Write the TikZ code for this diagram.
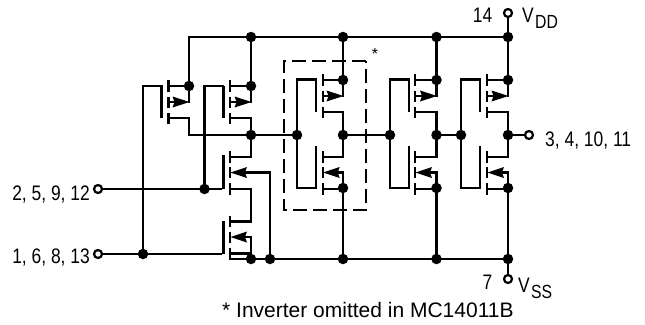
\documentclass[tikz,border=0pt]{standalone}
\usepackage{fontspec}
\setmainfont{Liberation Sans}
\newfontfamily\narrowface[FakeStretch=0.83]{Liberation Sans}
\newcommand{\ptran}[4]{%
  \coordinate (#1s) at (#2,#4);
  \coordinate (#1d) at (#2,#4+32);
  \coordinate (#1a) at (#2,#4+16);
  \coordinate (#1cs) at (#3,#4);
  \coordinate (#1cd) at (#3,#4+32);
  \coordinate (#1ca) at (#3,#4+16);
  \draw[chan] (#3,#4-6) -- (#3,#4+6);
  \draw[chan] (#3,#4+10.5) -- (#3,#4+21.5);
  \draw[chan] (#3,#4+26.5) -- (#3,#4+38);
  \draw[wire] (#1cs) -- (#1s);
  \draw[wire] (#1s) -- (#1a);
  \draw[wire] (#1cd) -- (#1d);
  \draw[wire] (#1ca) -- (#2-14,#4+16);
  \fill (#2+0.5,#4+16) -- (#2-16.5,#4+10.5) -- (#2-14.5,#4+16) -- (#2-16.5,#4+21.5) -- cycle;
}
\newcommand{\ntran}[4]{%
  \coordinate (#1d) at (#2,#4);
  \coordinate (#1s) at (#2,#4+32);
  \coordinate (#1a) at (#2,#4+15.5);
  \coordinate (#1cd) at (#3,#4);
  \coordinate (#1cs) at (#3,#4+32);
  \coordinate (#1ca) at (#3,#4+15.5);
  \draw[chan] (#3,#4-6) -- (#3,#4+5.5);
  \draw[chan] (#3,#4+10) -- (#3,#4+21);
  \draw[chan] (#3,#4+26) -- (#3,#4+38);
  \draw[wire] (#1cd) -- (#1d);
  \draw[wire] (#1cs) -- (#2,#4+32);
  \draw[wire] (#3+14,#4+15.5) -- (#1a);
  \fill (#3+0.5,#4+15.5) -- (#3+17,#4+10) -- (#3+15,#4+15.5) -- (#3+17,#4+21) -- cycle;
}
\begin{document}
\begin{tikzpicture}[x=1pt,y=-1pt,
  wire/.style={line width=2.2pt,line join=miter,line cap=rect},
  chan/.style={line width=2.4pt},
  dashbox/.style={line width=2.2pt,dash pattern=on 14pt off 6pt},
  dot/.style={circle,fill=black,inner sep=0pt,minimum size=10.5pt},
  ring/.style={circle,draw=black,fill=white,line width=2.2pt,inner sep=0pt,minimum size=8pt},
  lbl/.style={inner sep=0pt,font=\narrowface\fontsize{21}{21}\selectfont},
  sublbl/.style={inner sep=0pt,font=\narrowface\fontsize{19}{19}\selectfont},
  note/.style={inner sep=0pt,font=\fontsize{21}{21}\selectfont}]
\useasboundingbox (0,0) rectangle (645,324);
% Transistors
\ptran{pa}{189}{168.5}{86}
\ptran{pb}{251}{230}{86}
\ptran{pc}{343}{322.7}{80}
\ptran{pd}{436.5}{415}{80}
\ptran{pe}{508}{487}{80}
\ntran{na}{251}{230}{157}
\ntran{nb}{251}{230}{221.5}
\ntran{nc}{343}{322.7}{157}
\ntran{nd}{436.5}{415}{157}
\ntran{ne}{508}{487}{157}
% Gate bars
\foreach \x/\ya/\yb in {161.5/86/118,223.3/86/118,316/79.5/112,409/79.5/112,480/79.5/112,
  223.3/155/189,223.3/221/254,316/146/188,409/146/188,480/146/188}
  \draw[chan] (\x,\ya) -- (\x,\yb);
% Nodes
\node[dot] (vddA) at (251,37) {};
\node[dot] (vddB) at (343,37) {};
\node[dot] (vddC) at (436.5,37) {};
\node[dot] (vddD) at (508,37) {};
\node[dot] (srcA) at (189,86) {};
\node[dot] (srcB) at (251,86) {};
\node[dot] (srcC) at (343,80) {};
\node[dot] (srcD) at (436.5,80) {};
\node[dot] (srcE) at (508,80) {};
\node[dot] (outA) at (251,135) {};
\node[dot] (gateC) at (297,135) {};
\node[dot] (outC) at (343,135) {};
\node[dot] (gateD) at (390,135) {};
\node[dot] (outD) at (436.5,135) {};
\node[dot] (gateE) at (461,135) {};
\node[dot] (outE) at (508,135) {};
\node[dot] (inA) at (204.5,189) {};
\node[dot] (inB) at (143,254) {};
\node[dot] (gndC) at (343,188) {};
\node[dot] (gndD) at (436.5,188) {};
\node[dot] (gndE) at (508,188) {};
\node[dot] (vssA) at (251,259) {};
\node[dot] (vssB) at (270,259) {};
\node[dot] (vssC) at (343,259) {};
\node[dot] (vssD) at (436.5,259) {};
\node[dot] (vssE) at (508,259) {};
\coordinate (railcorner) at (230,259);
\coordinate (railL) at (189,37);
% Rails
\draw[wire] (srcA.center) -- (railL) -- (vddD.center);
\draw[wire] (railcorner) -- (vssE.center);
\draw[wire] (nbcs) -- (railcorner);
\draw[wire] (vddA.center) -- (srcB.center);
\draw[wire] (vddB.center) -- (srcC.center);
\draw[wire] (vddC.center) -- (srcD.center);
\draw[wire] (508,13) -- (srcE.center);
\draw[wire] (508,279) -- (gndE.center);
% Output chain
\draw[wire] (pad) -- (189,135) -- (outA.center);
\draw[wire] (pbd) -- (outA.center);
\draw[wire] (nad) -- (outA.center);
\draw[wire] (outA.center) -- (gateC.center);
\draw[wire] (pcd) -- (outC.center);
\draw[wire] (ncd) -- (outC.center);
\draw[wire] (outC.center) -- (gateD.center);
\draw[wire] (pdd) -- (outD.center);
\draw[wire] (ndd) -- (outD.center);
\draw[wire] (outD.center) -- (gateE.center);
\draw[wire] (ped) -- (outE.center);
\draw[wire] (ned) -- (outE.center);
\draw[wire] (outE.center) -- (529,135);
% N stack series
\draw[wire] (nas) -- (nbd);
\draw[wire] (naa) -- (270,172.5) -- (vssB.center);
\draw[wire] (nba) -- (vssA.center);
\draw[wire] (nca) -- (gndC.center);
\draw[wire] (gndC.center) -- (vssC.center);
\draw[wire] (nda) -- (gndD.center);
\draw[wire] (gndD.center) -- (vssD.center);
\draw[wire] (nea) -- (gndE.center);
% Input gates
\draw[wire] (98,254) -- (221,254);
\draw[wire] (98,189) -- (221,189);
\draw[wire] (inB.center) -- (143,86) -- (161.5,86);
\draw[wire] (inA.center) -- (204.5,86) -- (223.3,86);
% Inverter gate loops
\draw[wire] (316,79.5) -- (297,79.5) -- (297,188) -- (316,188);
\draw[wire] (409,79.5) -- (390,79.5) -- (390,188) -- (409,188);
\draw[wire] (480,79.5) -- (461,79.5) -- (461,188) -- (480,188);
% Pins
\node[ring] (pinVDD) at (508,13) {};
\node[ring] (pinVSS) at (508,279) {};
\node[ring] (pinOut) at (529,135) {};
\node[ring] (pinA) at (98,189) {};
\node[ring] (pinB) at (98,254) {};
% Dashed box
\draw[dashbox] (366,61) -- (284,61) -- (284,210) -- (366,210) -- cycle;
% Labels
\node[lbl,anchor=base east] (l14) at (492.5,23) {14};
\node[lbl,anchor=base west] (lvdd) at (522,23) {V};
\node[sublbl,anchor=base west] (lvdds) at (535,28) {DD};
\node[lbl,anchor=base west] (lout) at (545,146) {3, 4, 10, 11};
\node[lbl,anchor=base east] (lA) at (90,200) {2, 5, 9, 12};
\node[lbl,anchor=base east] (lB) at (90,263) {1, 6, 8, 13};
\node[lbl,anchor=base east] (l7) at (492.5,289) {7};
\node[lbl,anchor=base west] (lvss) at (518,292) {V};
\node[sublbl,anchor=base west] (lvsss) at (531,298) {SS};
\node[inner sep=0pt,font=\fontsize{16}{16}\selectfont] (lstar) at (375,54) {*};
\node[note,anchor=base west] (lnote) at (222,317) {* Inverter omitted in MC14011B};
\end{tikzpicture}
\end{document}
